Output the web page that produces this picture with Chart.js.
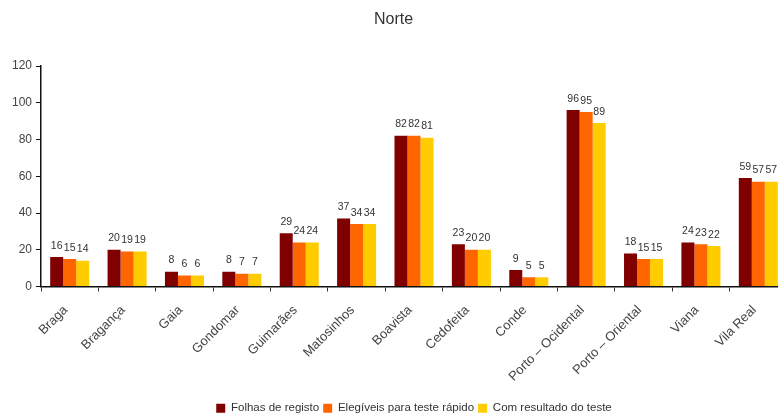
<!DOCTYPE html>
<html>
<head>
<meta charset="utf-8">
<script src="https://cdn.jsdelivr.net/npm/chart.js@4/dist/chart.umd.min.js"></script>
<style>
  html, body { margin: 0; padding: 0; background: #fff; overflow: hidden; }
  /* o gráfico original está cortado à direita: a tela é mais larga que a janela */
  #wrap { width: 787px; height: 416px; }
</style>
</head>
<body>
<div id="wrap"><canvas id="chart"></canvas></div>
<script>
const categories = ['Braga', 'Bragança', 'Gaia', 'Gondomar', 'Guimarães', 'Matosinhos', 'Boavista',
  'Cedofeita', 'Conde', 'Porto – Ocidental', 'Porto – Oriental', 'Viana', 'Vila Real'];
const folhas = [16, 20, 8, 8, 29, 37, 82, 23, 9, 96, 18, 24, 59];
const elegiveis = [15, 19, 6, 7, 24, 34, 82, 20, 5, 95, 15, 23, 57];
const comResultado = [14, 19, 6, 7, 24, 34, 81, 20, 5, 89, 15, 22, 57];
const yTicks = [0, 20, 40, 60, 80, 100, 120];

const FONT = '"Liberation Sans", Arial, sans-serif';

// valores por cima das barras
const valueLabels = {
  id: 'valueLabels',
  afterDatasetsDraw(chart) {
    const ctx = chart.ctx;
    ctx.save();
    ctx.font = '10.5px ' + FONT;
    ctx.fillStyle = '#333';
    ctx.textAlign = 'center';
    ctx.textBaseline = 'bottom';
    chart.data.datasets.forEach((ds, i) => {
      chart.getDatasetMeta(i).data.forEach((bar, j) => {
        ctx.fillText(ds.data[j], bar.x, bar.y - 6);
      });
    });
    ctx.restore();
  }
};

new Chart(document.getElementById('chart'), {
  type: 'bar',
  data: {
    labels: categories,
    datasets: [
      { label: 'Folhas de registo', data: folhas, backgroundColor: '#800000' },
      { label: 'Elegíveis para teste rápido', data: elegiveis, backgroundColor: '#FF6600' },
      { label: 'Com resultado do teste', data: comResultado, backgroundColor: '#FFCC00' }
    ]
  },
  options: {
    responsive: true,
    maintainAspectRatio: false,
    animation: false,
    layout: { padding: { left: 0, right: 0, top: 0, bottom: -8 } },
    datasets: { bar: { barPercentage: 1, categoryPercentage: 0.68 } },
    plugins: {
      title: {
        display: true,
        text: 'Norte',
        color: '#333',
        font: { family: FONT, size: 16, weight: 'normal' },
        padding: { top: 10, bottom: 36.8 }
      },
      legend: {
        position: 'bottom',
        fullSize: false,
        labels: {
          color: '#333',
          font: { family: FONT, size: 11.5 },
          boxWidth: 9,
          boxHeight: 9,
          padding: 4
        }
      },
      tooltip: { enabled: false }
    },
    scales: {
      x: {
        afterFit(axis) {
          axis.height = 112;
          axis.paddingLeft = 0;
          axis.paddingRight = 0;
        },
        grid: { display: true, drawOnChartArea: false, color: '#333', tickLength: 5, offset: true },
        border: { color: '#111', width: 1.5 },
        ticks: {
          color: '#444',
          font: { family: FONT, size: 13 },
          maxRotation: 45,
          minRotation: 45,
          autoSkip: false,
          padding: 11,
          labelOffset: -4
        }
      },
      y: {
        min: 0,
        max: 120,
        afterFit(axis) { axis.width = 41; },
        afterBuildTicks(axis) { axis.ticks = yTicks.map(v => ({ value: v })); },
        grid: { display: true, drawOnChartArea: false, color: '#111', tickLength: 5 },
        border: { color: '#111', width: 1.5 },
        ticks: {
          color: '#444',
          font: { family: FONT, size: 12 },
          padding: 4
        }
      }
    }
  },
  plugins: [valueLabels]
});
</script>
</body>
</html>
